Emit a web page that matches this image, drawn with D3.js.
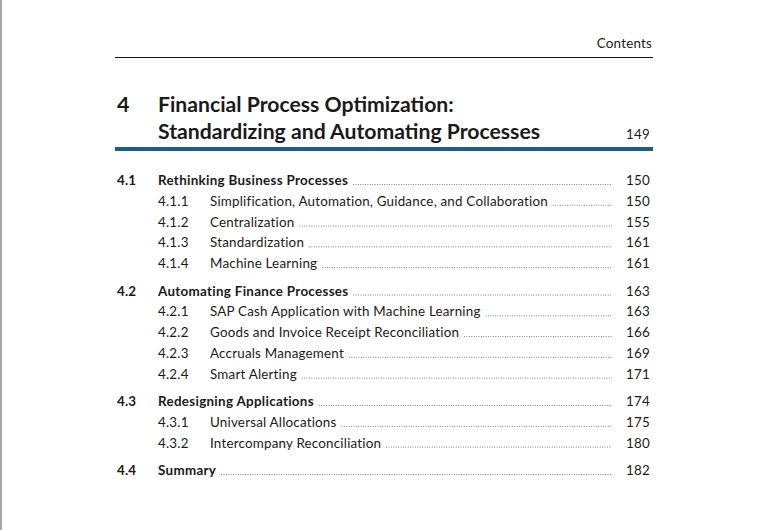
<!DOCTYPE html>
<html>
<head>
<meta charset="utf-8">
<script src="https://cdn.jsdelivr.net/npm/d3@7"></script>
<style>
  html, body { margin: 0; padding: 0; background: #fff; }
  svg { display: block; font-family: Lato, "Open Sans", sans-serif; }
</style>
</head>
<body>
<svg width="758" height="530"></svg>
<script>
// page data
const runningHead = 'Contents';
const chapterNum = '4';
const chapterTitle = ['Financial Process Optimization:', 'Standardizing and Automating Processes'];
const chapterPage = '149';

const entryNums = ['4.1', '4.1.1', '4.1.2', '4.1.3', '4.1.4',
  '4.2', '4.2.1', '4.2.2', '4.2.3', '4.2.4',
  '4.3', '4.3.1', '4.3.2', '4.4'];
const entryTitles = [
  'Rethinking Business Processes',
  'Simplification, Automation, Guidance, and Collaboration',
  'Centralization',
  'Standardization',
  'Machine Learning',
  'Automating Finance Processes',
  'SAP Cash Application with Machine Learning',
  'Goods and Invoice Receipt Reconciliation',
  'Accruals Management',
  'Smart Alerting',
  'Redesigning Applications',
  'Universal Allocations',
  'Intercompany Reconciliation',
  'Summary'
];
const entryPages = ['150', '150', '155', '161', '161', '163', '163', '166', '169', '171',
  '174', '175', '180', '182'];

const svg = d3.select('svg');
const width = +svg.attr('width');
const height = +svg.attr('height');

const left = 115, right = 653;
const blue = '#1b5f87';
const ink = '#1a1a1a';

// grey edge of the page on the left
svg.append('rect')
  .attr('x', 0).attr('y', 0)
  .attr('width', 2).attr('height', height)
  .attr('fill', '#a8a8a8');

// running head
svg.append('text')
  .attr('x', right - 1).attr('y', 48)
  .attr('text-anchor', 'end')
  .attr('font-size', 13.4)
  .attr('letter-spacing', 0.2)
  .attr('fill', ink)
  .text(runningHead);

svg.append('line')
  .attr('x1', left).attr('x2', right)
  .attr('y1', 57.5).attr('y2', 57.5)
  .attr('stroke', '#111').attr('stroke-width', 1);

// chapter heading
svg.append('text')
  .attr('x', 117).attr('y', 112)
  .attr('font-size', 21.5).attr('font-weight', 700)
  .attr('fill', ink)
  .text(chapterNum);

svg.append('text')
  .selectAll('tspan').data(chapterTitle)
  .enter().append('tspan')
    .attr('x', 158)
    .attr('y', (d, i) => 112 + i * 27)
    .attr('font-size', 21.2).attr('font-weight', 700)
    .attr('fill', ink)
    .text(d => d);

svg.append('text')
  .attr('x', 650).attr('y', 139)
  .attr('text-anchor', 'end')
  .attr('font-size', 13.4)
  .attr('letter-spacing', 0.2)
  .attr('fill', ink)
  .text(chapterPage);

svg.append('rect')
  .attr('x', left).attr('y', 147)
  .attr('width', right - left).attr('height', 4)
  .attr('fill', blue);

// entries: level from the number, extra gap before each section
const rows = entryNums.map((n, i) => ({
  num: n,
  title: entryTitles[i],
  page: entryPages[i],
  level: n.split('.').length - 1,
  section: +n.split('.')[1]
}));

const y = d3.scaleLinear()
  .domain([0, rows.length - 1])
  .range([185, 475 - 3 * 6.6]);

const rowY = (d, i) => y(i) + (d.section - 1) * 6.6;

const xNum = d3.scaleOrdinal().domain([1, 2]).range([117, 158]);
const xTitle = d3.scaleOrdinal().domain([1, 2]).range([158, 210]);
const leaderEnd = 612;

const entry = svg.append('g').selectAll('g').data(rows)
  .enter().append('g')
    .attr('transform', (d, i) => `translate(0,${rowY(d, i)})`)
    .attr('font-size', 13.4)
    .attr('fill', ink);

entry.append('text')
  .attr('x', d => xNum(d.level))
  .attr('font-weight', d => d.level === 1 ? 700 : 400)
  .attr('letter-spacing', 0.2)
  .text(d => d.num);

const titles = entry.append('text')
  .attr('x', d => xTitle(d.level))
  .attr('font-weight', d => d.level === 1 ? 700 : 400)
  .attr('letter-spacing', d => d.level === 1 ? 0.3 : 0.2)
  .text(d => d.title);

entry.append('text')
  .attr('x', 650)
  .attr('text-anchor', 'end')
  .attr('letter-spacing', 0.2)
  .text(d => d.page);

// dot leaders
titles.each(function(d) {
  const end = xTitle(d.level) + this.getComputedTextLength();
  d3.select(this.parentNode).append('line')
    .attr('x1', end + 5).attr('x2', leaderEnd)
    .attr('y1', -0.5).attr('y2', -0.5)
    .attr('stroke', '#555')
    .attr('stroke-width', 0.9)
    .attr('stroke-dasharray', '0.8,1.6');
});
</script>
</body>
</html>
